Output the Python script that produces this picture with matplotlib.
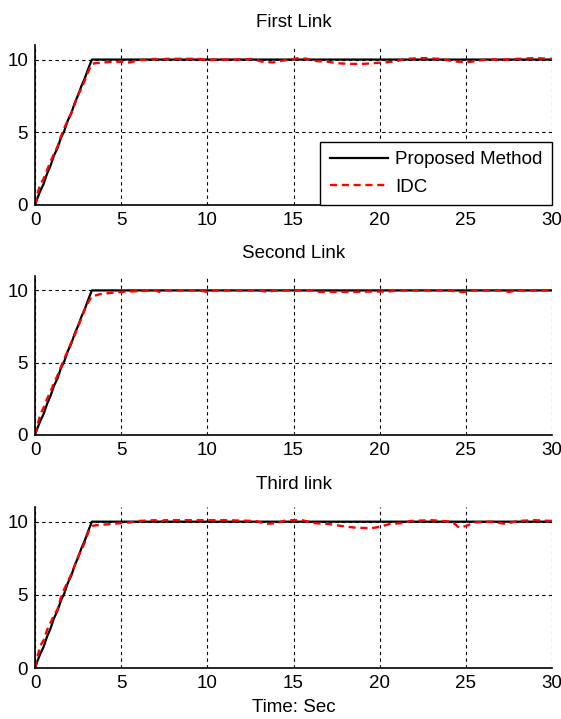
import matplotlib
matplotlib.use('Agg')
import matplotlib.pyplot as plt

plt.rcParams['font.family'] = ['Liberation Sans', 'DejaVu Sans']

titles = ['First Link', 'Second Link', 'Third link']
x_label = 'Time: Sec'
legend_labels = ['Proposed Method', 'IDC']

# reference (proposed method) trajectory
t_black = [0, 0.15, 0.3, 0.5, 0.7, 0.9, 1.1, 1.3, 1.5, 1.7, 1.9, 2.1, 2.3, 2.5, 2.7, 2.9, 3.1, 3.3, 30]
y_black = [0, 0.5, 0.95, 1.45, 2.15, 2.7, 3.4, 3.9, 4.6, 5.1, 5.8, 6.3, 7.0, 7.55, 8.2, 8.75, 9.4, 10.0, 10.0]

# IDC trajectories, one per link
t_red1 = [0, 0.15, 0.3, 0.5, 0.7, 0.9, 1.1, 1.3, 1.5, 1.7, 1.9, 2.1, 2.3, 2.5, 2.7, 2.9, 3.1, 3.3,
          3.5, 4, 4.5, 5, 5.5, 6, 6.5, 7, 7.2, 7.6, 8.5, 9.5, 10, 10.5, 12, 12.6, 13.2, 13.8, 14.2,
          14.8, 15.3, 15.8, 16.3, 17, 17.5, 18.3, 19, 19.6, 20.3, 21, 21.5, 22.5, 23.5, 24.2, 25,
          25.6, 26.2, 27, 28, 29, 30]
y_red1 = [0, 0.8, 1.4, 1.8, 2.4, 3.0, 3.5, 4.0, 4.7, 5.3, 5.8, 6.3, 6.9, 7.6, 8.0, 8.6, 9.2, 9.7,
          9.75, 9.8, 9.85, 9.85, 9.8, 9.95, 10.0, 10.05, 9.95, 10.05, 10.05, 10.05, 9.95, 10.0, 10.0, 10.05, 9.85, 9.8, 9.9,
          10.0, 10.1, 10.05, 9.9, 9.85, 9.75, 9.7, 9.7, 9.75, 9.8, 9.9, 10.05, 10.1, 10.05, 9.9, 9.8,
          9.9, 10.0, 10.0, 10.05, 10.1, 10.05]

t_red2 = [0, 0.15, 0.3, 0.5, 0.7, 0.9, 1.1, 1.3, 1.5, 1.7, 1.9, 2.1, 2.3, 2.5, 2.7, 2.9, 3.1, 3.3,
          3.5, 3.8, 4.2, 4.6, 5, 6, 7, 7.2, 7.5, 9.5, 10, 10.5, 13, 13.5, 14, 15, 16, 16.5, 17.5,
          18.5, 19.5, 20.5, 21, 22, 24, 24.8, 25.5, 27, 27.5, 28, 30]
y_red2 = [0, 0.7, 1.4, 1.9, 2.5, 3.0, 3.6, 4.1, 4.7, 5.3, 5.8, 6.4, 6.9, 7.5, 8.1, 8.7, 9.2, 9.6,
          9.65, 9.75, 9.8, 9.85, 9.9, 9.95, 10.0, 9.9, 10.0, 10.0, 9.9, 10.0, 10.0, 9.9, 10.0, 10.0, 10.0, 9.9, 9.9,
          9.9, 9.92, 9.92, 10.0, 10.0, 10.0, 9.88, 10.0, 10.0, 9.9, 10.0, 10.0]

t_red3 = [0, 0.15, 0.3, 0.5, 0.7, 0.9, 1.1, 1.3, 1.5, 1.7, 1.9, 2.1, 2.3, 2.5, 2.7, 2.9, 3.1, 3.3,
          3.5, 4, 4.5, 5, 5.5, 6, 7, 7.2, 7.5, 9, 11, 12.8, 13.4, 14, 14.6, 15.5, 16.2, 17, 17.8,
          18.5, 19.5, 20, 20.6, 21.3, 21.8, 23, 24.2, 24.6, 25, 25.5, 26.5, 27.3, 28, 29, 30]
y_red3 = [0, 0.8, 1.5, 1.9, 2.6, 3.1, 3.6, 4.0, 4.8, 5.4, 5.9, 6.4, 7.0, 7.6, 8.1, 8.6, 9.3, 9.7,
          9.75, 9.8, 9.85, 9.9, 9.95, 10.05, 10.1, 9.95, 10.1, 10.1, 10.1, 10.05, 9.85, 9.9, 10.1, 10.1, 9.9, 9.85, 9.7,
          9.6, 9.55, 9.65, 9.85, 9.9, 10.05, 10.1, 10.0, 9.6, 9.7, 9.95, 10.0, 9.85, 10.05, 10.1, 10.05]

red_t = [t_red1, t_red2, t_red3]
red_y = [y_red1, y_red2, y_red3]

fig = plt.figure(figsize=(5.61, 7.19), dpi=100)
boxes = [(0.0624, 0.7149, 0.9216, 0.2225),
         (0.0624, 0.3950, 0.9216, 0.2212),
         (0.0624, 0.0709, 0.9216, 0.2239)]
fs = 13.5

for i, box in enumerate(boxes):
    ax = fig.add_axes(box)
    ax.plot(t_black, y_black, color='black', linewidth=1.6, label=legend_labels[0])
    ax.plot(red_t[i], red_y[i], color='red', linewidth=1.7, linestyle=(0, (3, 2)), label=legend_labels[1])
    ax.set_xlim(0, 30)
    ax.set_ylim(0, 11)
    ax.set_xticks(range(0, 31, 5))
    ax.set_yticks([0, 5, 10])
    ax.grid(True, color='black', linestyle=(0, (3, 3)), linewidth=0.8)
    ax.spines['top'].set_visible(False)
    ax.spines['right'].set_visible(False)
    ax.spines['left'].set_linewidth(1.2)
    ax.spines['bottom'].set_linewidth(1.2)
    ax.tick_params(direction='in', length=0, labelsize=fs, pad=5)
    ax.set_title(titles[i], fontsize=fs, pad=13)
    if i == 0:
        leg = ax.legend(loc='lower right', bbox_to_anchor=(1, 0), borderaxespad=0,
                        fancybox=False, edgecolor='black', framealpha=1, fontsize=fs,
                        handlelength=3.1, handletextpad=0.4, borderpad=0.5, labelspacing=0.55)
        leg.get_frame().set_linewidth(1.0)
    if i == 2:
        ax.set_xlabel(x_label, fontsize=fs, labelpad=5)

fig.savefig('out.png', dpi=100)
